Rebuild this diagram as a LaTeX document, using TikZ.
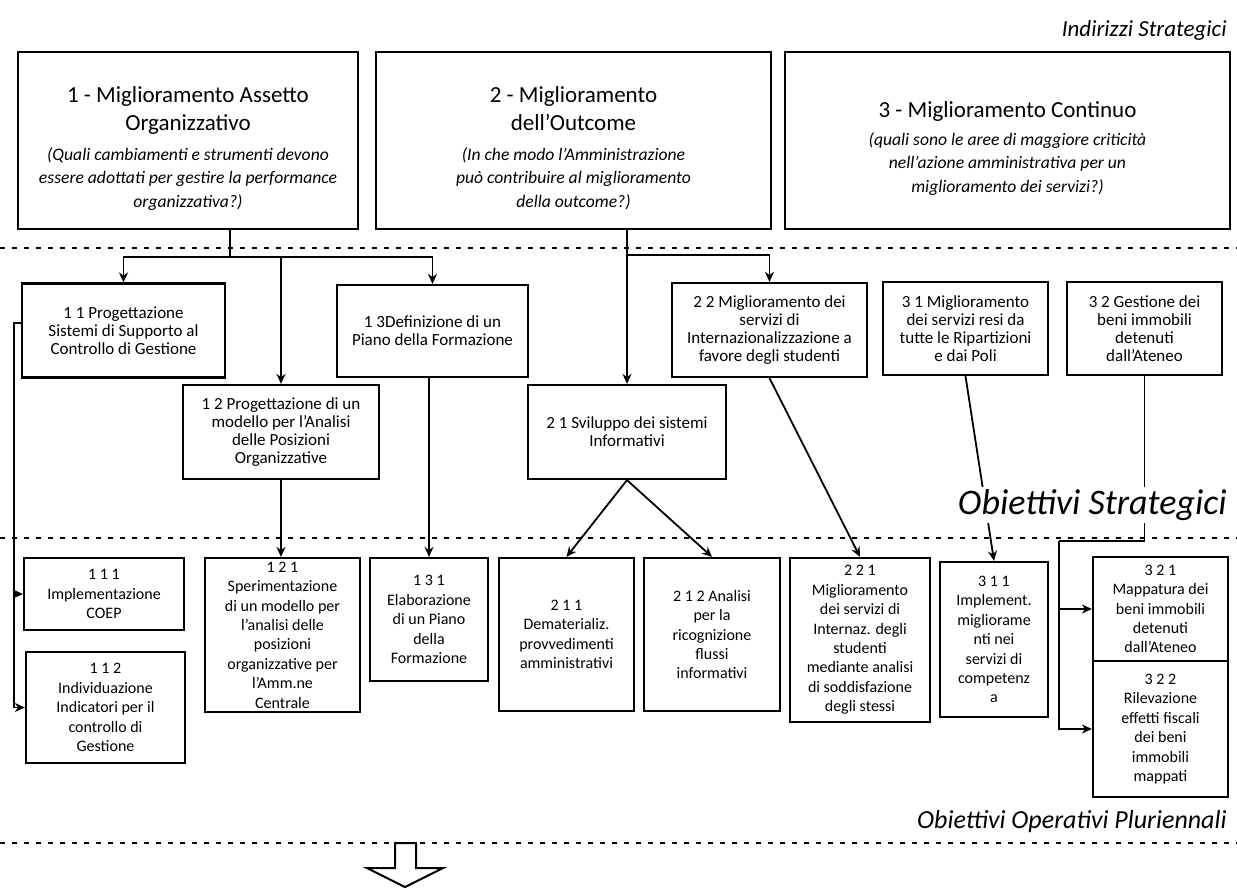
\documentclass[tikz,border=0pt]{standalone}
\usepackage{fontspec}
\setmainfont{Carlito}
\usepackage{tikz}
\usetikzlibrary{arrows.meta}

\tikzset{
	strat/.style={shape=rectangle, draw=black, line width=1.1pt, align=center, inner sep=2pt, font=\fontsize{11.5}{14}\selectfont},
	obj/.style={shape=rectangle, draw=black, line width=1.1pt, align=center, inner sep=1pt, font=\fontsize{8.5}{9}\selectfont},
	oper/.style={obj, font=\fontsize{8}{9.7}\selectfont},
	tier/.style={anchor=east, inner sep=1pt, font=\itshape\fontsize{11.5}{14}\selectfont},
	guide/.style={line width=1pt, dash pattern=on 2.5pt off 3.5pt},
	link/.style={line width=0.9pt, -{Stealth[length=5pt, width=4.5pt]}},
	plain/.style={line width=0.9pt}
}

\begin{document}
\begin{tikzpicture}[x=0.5pt, y=-0.5pt]
	\useasboundingbox (0,0) rectangle (1237,889);

	% indirizzi strategici
	\node[strat, minimum width=170pt, minimum height=88.5pt] (ia) at (188,140.5) {\rule{0pt}{18pt}1 - Miglioramento Assetto\\ Organizzativo\\[1pt]
		\itshape\fontsize{8.8}{11.8}\selectfont\begin{tabular}[t]{@{}c@{}}(Quali cambiamenti e strumenti devono\\ essere adottati per gestire la performance\\ organizzativa?)\end{tabular}};
	\node[strat, minimum width=197.5pt, minimum height=88.5pt] (ib) at (573.5,140.5) {\rule{0pt}{18pt}2 - Miglioramento\\ dell'Outcome\\[1pt]
		\itshape\fontsize{8.8}{11.8}\selectfont\begin{tabular}[t]{@{}c@{}}(In che modo l'Amministrazione\\ può contribuire al miglioramento\\ della outcome?)\end{tabular}};
	\node[strat, minimum width=222.5pt, minimum height=88.5pt] (ic) at (1007.5,140.5) {\rule{0pt}{18pt}3 - Miglioramento Continuo\\
		\itshape\fontsize{8.8}{11.8}\selectfont\begin{tabular}[t]{@{}c@{}}(quali sono le aree di maggiore criticità\\ nell'azione amministrativa per un\\ miglioramento dei servizi?)\end{tabular}};

	% obiettivi strategici
	\node[obj, minimum width=101.5pt, minimum height=47pt] (o11) at (123.5,330.5) {1 1 Progettazione\\ Sistemi di Supporto al\\ Controllo di Gestione};
	\node[obj, minimum width=98pt, minimum height=47pt] (o12) at (281,432) {1 2 Progettazione di un\\ modello per l'Analisi\\ delle Posizioni\\ Organizzative};
	\node[obj, minimum width=95.5pt, minimum height=46pt] (o13) at (432.5,331) {1 3Definizione di un\\ Piano della Formazione};
	\node[obj, minimum width=99pt, minimum height=47pt] (o21) at (627,432) {2 1 Sviluppo dei sistemi\\ Informativi};
	\node[obj, minimum width=97.5pt, minimum height=47pt] (o22) at (769.5,330) {2 2 Miglioramento dei\\ servizi di\\ Internazionalizzazione a\\ favore degli studenti};
	\node[obj, minimum width=82.5pt, minimum height=46.5pt] (o31) at (965.5,328.5) {3 1 Miglioramento\\ dei servizi resi da\\ tutte le Ripartizioni\\ e dai Poli};
	\node[obj, minimum width=77.5pt, minimum height=46.5pt] (o32) at (1144.5,328.5) {3 2 Gestione dei\\ beni immobili\\ detenuti\\ dall'Ateneo};

	% obiettivi operativi pluriennali
	\node[oper, minimum width=80pt, minimum height=36pt] (p111) at (104,594) {1 1 1\\ Implementazione\\ COEP};
	\node[oper, minimum width=79.5pt, minimum height=55.5pt] (p112) at (105.5,707.5) {1 1 2\\ Individuazione\\ Indicatori per il\\ controllo di\\ Gestione};
	\node[oper, minimum width=77.5pt, minimum height=77pt] (p121) at (282.5,635) {1 2 1\\ Sperimentazione\\ di un modello per\\ l'analisi delle\\ posizioni\\ organizzative per\\ l'Amm.ne\\ Centrale};
	\node[oper, minimum width=59pt, minimum height=61.5pt] (p131) at (429,619.5) {1 3 1\\ Elaborazione\\ di un Piano\\ della\\ Formazione};
	\node[oper, minimum width=67.5pt, minimum height=76.5pt] (p211) at (566.5,634.5) {2 1 1\\ Dematerializ.\\ provvedimenti\\ amministrativi};
	\node[oper, minimum width=68pt, minimum height=76.5pt] (p212) at (712,634.5) {2 1 2 Analisi\\ per la\\ ricognizione\\ flussi\\ informativi};
	\node[oper, minimum width=70pt, minimum height=82pt] (p221) at (860,640) {2 2 1\\ Miglioramento\\ dei servizi di\\ Internaz. degli\\ studenti\\ mediante analisi\\ di soddisfazione\\ degli stessi};
	\node[oper, minimum width=54pt, minimum height=77.5pt] (p311) at (994,639.5) {3 1 1\\ Implement.\\ migliorame\\ nti nei\\ servizi di\\ competenz\\ a};
	\node[oper, minimum width=67.5pt, minimum height=52pt] (p321) at (1160.5,609) {3 2 1\\ Mappatura dei\\ beni immobili\\ detenuti\\ dall'Ateneo};
	\node[oper, minimum width=67.5pt, minimum height=68pt] (p322) at (1160.5,729) {3 2 2\\ Rilevazione\\ effetti fiscali\\ dei beni\\ immobili\\ mappati};

	% separatori
	\draw[guide] (0,248) -- (1237,248);
	\draw[guide] (0,538) -- (1237,538);
	\draw[guide] (0,843) -- (1237,843);

	\coordinate (s0) at (14,323);
	\coordinate (s1) at (230,257);
	\coordinate (s2) at (627,255);
	\coordinate (s3) at (1059,541);

	\draw[plain] (ia.south -| s1) -- (s1);
	\draw[link] (s1) -| (o11.north);
	\draw[link] (s1) -| (o13.north);
	\draw[link] (s1 -| o12.north) -- (o12.north);
	\draw[link] (ib.south -| o21.north) -- (o21.north);
	\draw[link] (s2) -| (o22.north);

	\draw[link] (o11.west |- s0) -- (s0) |- (p112.west);
	\draw[link] (s0 |- p111.west) -- (p111.west);
	\draw[link] (o12.south) -- (o12.south |- p121.north);
	\draw[link] (p131.north |- o13.south) -- (p131.north);
	\draw[link] (o21.south) -- (p211.north);
	\draw[link] (o21.south) -- (p212.north);
	\draw[link] (o22.south) -- (p221.north);
	\draw[link] (o31.south) -- (p311.north);
	\draw[plain] (o32.south) |- (s3);
	\draw[link] (s3) |- (p322.west);
	\draw[link] (s3 |- p321.west) -- (p321.west);

	% livelli
	\node[tier] (lvind) at (1229,30) {Indirizzi Strategici};
	\node[tier, fill=white, font=\itshape\fontsize{18}{20}\selectfont] (lvobj) at (1229,505) {Obiettivi Strategici};
	\node[tier, font=\itshape\fontsize{13}{15}\selectfont] (lvoper) at (1229,822) {Obiettivi Operativi Pluriennali};

	% freccia
	\draw[line width=1pt] (395,843) -- (395,868) -- (367,868) -- (405,887) -- (443,868) -- (416,868) -- (416,843) -- cycle;
\end{tikzpicture}
\end{document}
